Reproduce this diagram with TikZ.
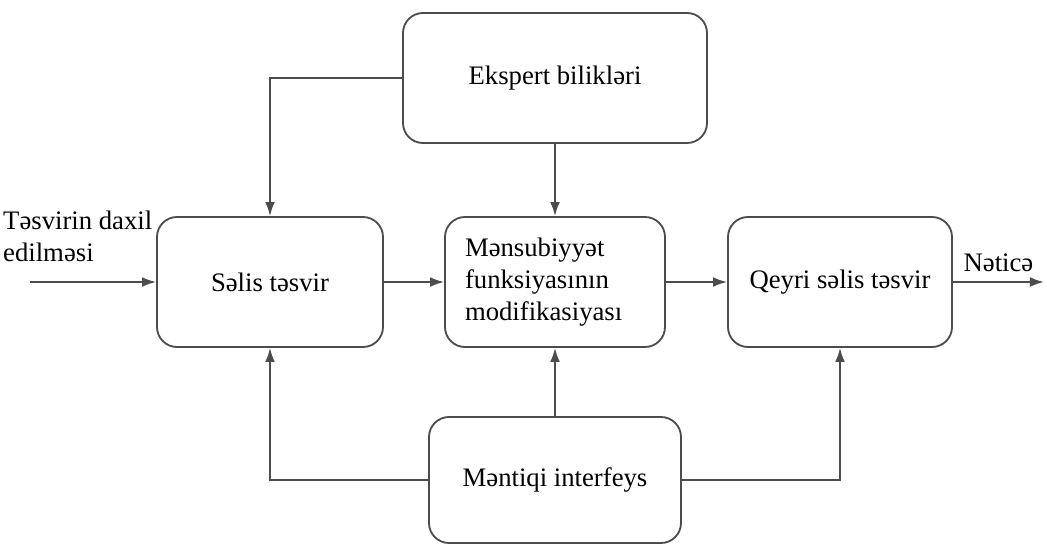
\documentclass[tikz,border=0pt]{standalone}
\usepackage{fontspec}
\setmainfont{Liberation Serif}
\usepackage{tikz}
\usetikzlibrary{arrows.meta}
\tikzstyle{block} = [rectangle, rounded corners=0.5cm, minimum height=3.25cm, text centered, draw=black!70, line width=1.3pt]
\tikzstyle{line} = [draw=black!70, line width=1.3pt, -{Latex[length=10pt,width=7pt]}]

\begin{document}
\begin{tikzpicture}[node distance=7.125cm]\fontsize{19}{22.5}\selectfont
      \useasboundingbox (0,0) rectangle (26.175,-13.625);
      \node (selis) [block, minimum width=5.65cm] at (6.75,-7.05) {Səlis təsvir};
      \node (mod) [block, right of=selis, minimum width=5.5cm, text width=4.5cm, align=left] {Mənsubiyyət\\funksiyasının\\modifikasiyası};
      \node (qeyri) [block, right of=mod, minimum width=5.6cm] {Qeyri səlis təsvir};
      \node (ekspert) [block, above of=mod, node distance=5.1cm, minimum width=7.6cm] {Ekspert bilikləri};
      \node (mentiq) [block, below of=mod, node distance=4.95cm, minimum width=6.3cm, minimum height=3.15cm] {Məntiqi interfeys};
      \node (giris) [coordinate, left of=selis, node distance=6cm] {};
      \node (cixis) [coordinate, right of=qeyri, node distance=5.1cm] {};
      \node (girisyazi) [anchor=south west, align=left] at ([shift={(-0.9,0.28)}]giris) {Təsvirin daxil\\edilməsi};
      \draw[line] (giris) -- (selis);
      \draw[line] (selis) -- (mod);
      \draw[line] (mod) -- (qeyri);
      \draw[line] (qeyri) -- node[above] (netice) {Nəticə} (cixis);
      \draw[line] (ekspert.west) -| (selis.north);
      \draw[line] (ekspert) -- (mod);
      \draw[line] (mentiq) -- (mod);
      \draw[line] (mentiq.west) -| (selis.south);
      \draw[line] (mentiq.east) -| (qeyri.south);
    \end{tikzpicture}
\end{document}
